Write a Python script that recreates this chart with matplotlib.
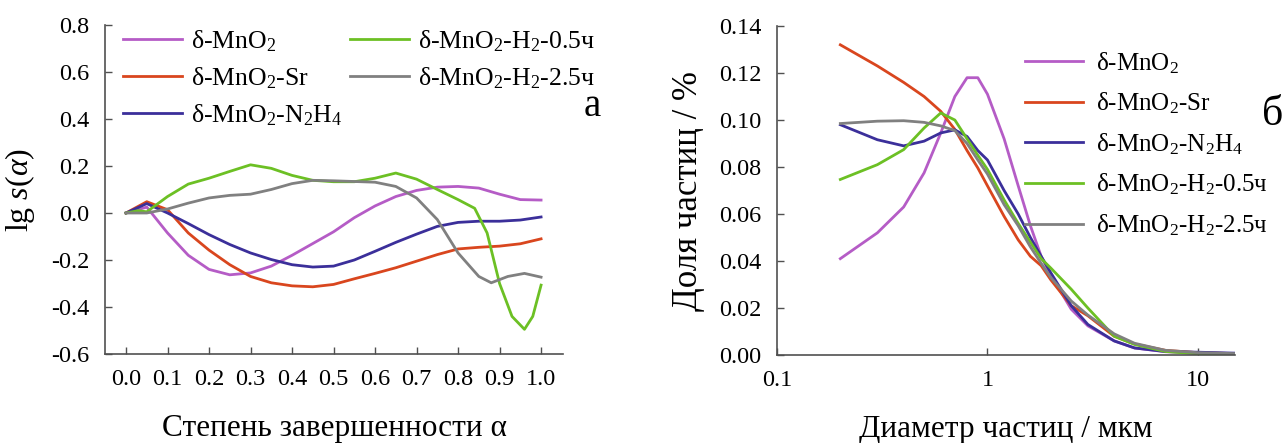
import matplotlib
matplotlib.use("Agg")
import matplotlib.pyplot as plt
import numpy as np

plt.rcParams['font.family'] = ['Liberation Serif', 'DejaVu Serif']
plt.rcParams['mathtext.fontset'] = 'custom'
plt.rcParams['mathtext.rm'] = 'Liberation Serif'
plt.rcParams['mathtext.it'] = 'Liberation Serif:italic'
plt.rcParams['font.size'] = 18

# ---- data: panel a (lg s(alpha) vs alpha) ----
alpha = [0.0, 0.05, 0.1, 0.15, 0.2, 0.25, 0.3, 0.35, 0.4, 0.45, 0.5,
         0.55, 0.6, 0.65, 0.7, 0.75, 0.8, 0.85, 0.9, 0.95, 1.0]
s_mno2 = [0.0, 0.025, -0.085, -0.18, -0.24, -0.263, -0.255, -0.226, -0.18, -0.13, -0.08,
          -0.02, 0.03, 0.07, 0.096, 0.11, 0.113, 0.106, 0.08, 0.057, 0.055]
s_sr = [0.0, 0.048, 0.014, -0.085, -0.158, -0.22, -0.27, -0.297, -0.31, -0.314, -0.304,
        -0.28, -0.257, -0.233, -0.205, -0.177, -0.153, -0.146, -0.141, -0.131, -0.11]
s_n2h4 = [0.0, 0.04, 0.0, -0.045, -0.092, -0.134, -0.17, -0.198, -0.22, -0.23, -0.226,
          -0.2, -0.163, -0.125, -0.09, -0.057, -0.04, -0.035, -0.035, -0.03, -0.017]

alpha_h05 = [0.0, 0.03, 0.05, 0.1, 0.15, 0.2, 0.25, 0.3, 0.35, 0.4, 0.45, 0.5, 0.55, 0.6,
             0.65, 0.7, 0.75, 0.8, 0.84, 0.87, 0.9, 0.93, 0.96, 0.98, 1.0]
s_h05 = [0.0, 0.01, 0.005, 0.07, 0.123, 0.148, 0.177, 0.205, 0.19, 0.16, 0.139, 0.133, 0.133, 0.148,
         0.17, 0.144, 0.1, 0.057, 0.02, -0.085, -0.3, -0.44, -0.495, -0.44, -0.307]

alpha_h25 = [0.0, 0.05, 0.1, 0.15, 0.2, 0.25, 0.3, 0.35, 0.4, 0.45, 0.5, 0.55, 0.6,
             0.65, 0.7, 0.75, 0.8, 0.85, 0.88, 0.92, 0.96, 1.0]
s_h25 = [0.0, 0.0, 0.017, 0.042, 0.064, 0.075, 0.08, 0.1, 0.125, 0.139, 0.137, 0.134, 0.131,
         0.113, 0.064, -0.028, -0.17, -0.27, -0.297, -0.27, -0.257, -0.273]

# ---- data: panel b (particle size distribution) ----
diam = [0.2, 0.3, 0.4, 0.5, 0.6, 0.7, 0.8, 0.9, 1.0, 1.2, 1.4, 1.6, 1.8, 2.0,
        2.5, 3.0, 4.0, 5.0, 7.0, 10.0, 15.0]
d_mno2 = [0.041, 0.052, 0.063, 0.0775, 0.0945, 0.11, 0.118, 0.118, 0.111, 0.092, 0.072, 0.055, 0.042, 0.034,
          0.0195, 0.0124, 0.006, 0.003, 0.0014, 0.0008, 0.0004]
d_sr = [0.132, 0.123, 0.116, 0.11, 0.1037, 0.096, 0.087, 0.0796, 0.072, 0.059, 0.049, 0.042, 0.038, 0.032,
        0.021, 0.0167, 0.008, 0.0047, 0.002, 0.001, 0.0006]
d_n2h4 = [0.098, 0.0916, 0.089, 0.091, 0.0945, 0.0958, 0.093, 0.087, 0.083, 0.07, 0.06, 0.05, 0.042, 0.035,
          0.021, 0.013, 0.006, 0.003, 0.0015, 0.0012, 0.0008]
d_h05 = [0.0747, 0.081, 0.0874, 0.0966, 0.103, 0.1, 0.092, 0.085, 0.079, 0.066, 0.056, 0.048, 0.041, 0.037,
         0.028, 0.02, 0.008, 0.0045, 0.0015, 0.0005, 0.0003]
d_h25 = [0.0985, 0.0995, 0.0997, 0.099, 0.0975, 0.0955, 0.09, 0.083, 0.077, 0.064, 0.055, 0.046, 0.039, 0.033,
         0.023, 0.017, 0.009, 0.005, 0.002, 0.001, 0.0006]

labels = [r'δ-MnO$_\mathrm{2}$', r'δ-MnO$_\mathrm{2}$-Sr', r'δ-MnO$_\mathrm{2}$-N$_\mathrm{2}$H$_\mathrm{4}$',
          r'δ-MnO$_\mathrm{2}$-H$_\mathrm{2}$-0.5ч', r'δ-MnO$_\mathrm{2}$-H$_\mathrm{2}$-2.5ч']
colors = ['#b55cc6', '#d9461e', '#3b2f9a', '#6cc024', '#808080']

fig = plt.figure(figsize=(12.87, 4.43), dpi=100)
ax1 = fig.add_axes([0.0816, 0.2009, 0.3559, 0.7427])
ax2 = fig.add_axes([0.6037, 0.1986, 0.3559, 0.7427])

lw = 2
ax1.plot(alpha, s_mno2, color=colors[0], lw=lw, label=labels[0])
ax1.plot(alpha, s_sr, color=colors[1], lw=lw, label=labels[1])
ax1.plot(alpha, s_n2h4, color=colors[2], lw=lw, label=labels[2])
ax1.plot(alpha_h05, s_h05, color=colors[3], lw=lw, label=labels[3])
ax1.plot(alpha_h25, s_h25, color=colors[4], lw=lw, label=labels[4])

ax1.set_xlim(-0.0506, 1.053)
ax1.set_ylim(-0.6, 0.8)
xt = np.arange(0, 1.01, 0.1)
ax1.set_xticks(xt)
ax1.set_xticklabels(['%.1f' % v for v in xt])
yt = np.arange(-0.6, 0.81, 0.2)
ax1.set_yticks(yt)
ax1.set_yticklabels(['%.1f' % v if abs(v) > 1e-9 else '0.0' for v in yt])
ax1.set_xlabel('Степень завершенности α', fontsize=22.5, labelpad=17)
ax1.set_ylabel(r'lg $\mathit{s(\alpha)}$', fontsize=23, labelpad=10)
ax1.legend(loc='upper left', bbox_to_anchor=(123 / 1287, 1 - 28 / 443), bbox_transform=fig.transFigure,
           ncol=2, frameon=False, borderpad=0, borderaxespad=0,
           handlelength=2.3, handletextpad=0.35, columnspacing=0.3, labelspacing=0.45, fontsize=18.5)
fig.text(592 / 1287, 1 - 106 / 443, 'а', fontsize=28, ha='center', va='center')

ax2.plot(diam, d_mno2, color=colors[0], lw=lw, label=labels[0])
ax2.plot(diam, d_sr, color=colors[1], lw=lw, label=labels[1])
ax2.plot(diam, d_n2h4, color=colors[2], lw=lw, label=labels[2])
ax2.plot(diam, d_h05, color=colors[3], lw=lw, label=labels[3])
ax2.plot(diam, d_h25, color=colors[4], lw=lw, label=labels[4])
ax2.set_xscale('log')
ax2.set_xlim(0.1, 15)
ax2.set_ylim(0, 0.14)
ax2.set_xticks([0.1, 1, 10])
ax2.set_xticklabels(['0.1', '1', '10'])
ax2.minorticks_off()
yt2 = np.arange(0, 0.141, 0.02)
ax2.set_yticks(yt2)
ax2.set_yticklabels(['%.2f' % v for v in yt2])
ax2.set_xlabel('Диаметр частиц / мкм', fontsize=22.5, labelpad=17)
ax2.set_ylabel('Доля частиц / %', fontsize=25, labelpad=10)
ax2.legend(loc='upper left', bbox_to_anchor=(1025 / 1287, 1 - 50 / 443), bbox_transform=fig.transFigure,
           frameon=False, borderpad=0, borderaxespad=0,
           handlelength=2.3, handletextpad=0.55, labelspacing=0.6, fontsize=18)
fig.text(1273 / 1287, 1 - 115 / 443, 'б', fontsize=30, ha='center', va='center')

for ax in (ax1, ax2):
    for sp in ('top', 'right'):
        ax.spines[sp].set_visible(False)
    for sp in ('left', 'bottom'):
        ax.spines[sp].set_color('#505050')
        ax.spines[sp].set_linewidth(1.2)
    ax.tick_params(direction='in', length=5, width=1, color='#505050', labelsize=17.5, pad=11)

fig.savefig('out.png', dpi=100)
